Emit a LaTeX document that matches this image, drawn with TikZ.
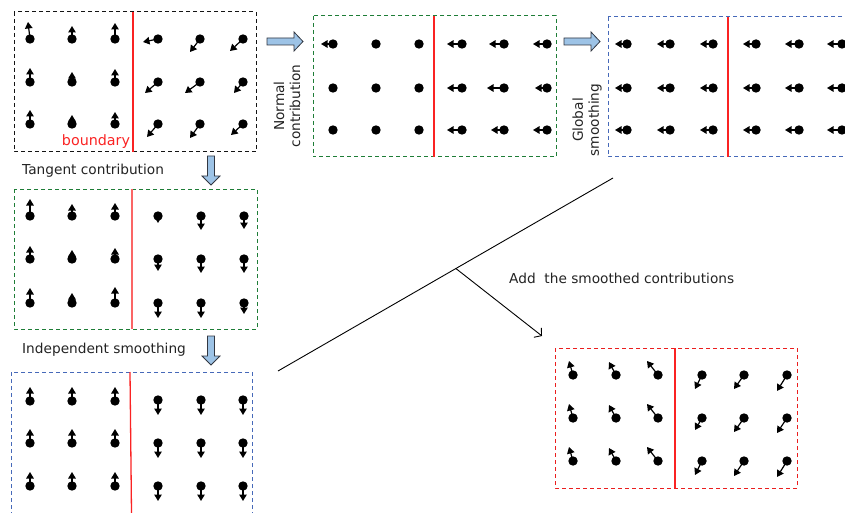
\documentclass[tikz,border=0pt]{standalone}
\usepackage{fontspec}
\setmainfont{DejaVu Sans}
\usetikzlibrary{arrows.meta,calc}

\definecolor{frameblack}{RGB}{20,20,20}
\definecolor{framegreen}{RGB}{30,125,55}
\definecolor{frameblue}{RGB}{70,105,185}
\definecolor{framered}{RGB}{235,30,30}
\definecolor{bndred}{RGB}{250,35,35}
\definecolor{arrfill}{RGB}{157,195,230}
\definecolor{arredge}{RGB}{50,55,65}
\definecolor{labelgray}{RGB}{35,35,35}

% a field vector: dot at (x,y) with an arrow of offset (dx,dy)
\newcommand\fieldvecs[1]{%
  \foreach \px/\py/\vx/\vy in {#1}{%
    \fill (\px,\py) circle[radius=4.7pt];
    \draw[vecarrow] (\px,\py) -- ++(\vx,\vy);
  }}
\newcommand\fielddots[1]{%
  \foreach \px/\py in {#1}{\fill (\px,\py) circle[radius=4.7pt];}}

\begin{document}
\begin{tikzpicture}[x=1pt,y=-1pt,
  vecarrow/.style={line width=1.2pt,-{Triangle[length=6.5pt,width=7.5pt]}},
  framebox/.style={line width=1pt,dash pattern=on 4pt off 3pt},
  bline/.style={bndred,line width=1.3pt},
  tlabel/.style={font=\fontsize{13.7}{16}\selectfont,text=labelgray,inner sep=0pt},
  blockarrow/.style={fill=arrfill,draw=arredge,line width=0.8pt},
  rblock/.pic={\path[blockarrow] (-18,-3.5) -- (9,-3.5) -- (9,-9.5) -- (18,0) -- (9,9.5) -- (9,3.5) -- (-18,3.5) -- cycle;},
  dblock/.pic={\path[blockarrow] (-3.5,-14.5) -- (-3.5,5.5) -- (-9,5.5) -- (0,14.5) -- (9,5.5) -- (3.5,5.5) -- (3.5,-14.5) -- cycle;},
]
\useasboundingbox (0,0) rectangle (845,513);
\clip (0,0) rectangle (845,513);

% ---- frames and boundaries ----
\draw[framebox,frameblack] (14,12) rectangle (256,152);
\draw[bline] (133,12) -- (133,152);
\node[tlabel,text=bndred,font=\fontsize{14.3}{17}\selectfont] (bnd) at (96,142) {boundary};

\draw[framebox,framegreen] (313,16) rectangle (556,157);
\draw[bline] (434,16) -- (434,157);

\draw[framebox,frameblue] (608,17) rectangle (851,157);
\draw[bline] (728,17) -- (728,157);

\draw[framebox,framegreen] (14,189) rectangle (257,329);
\draw[bline,bndred!70] (132,189) -- (132,329);

\draw[framebox,frameblue] (11,372) rectangle (252,516);
\draw[bline] (130,372) -- (131.5,513);

\draw[framebox,framered] (555,348) rectangle (797,488);
\draw[bline] (675,348) -- (675,488);

% ---- initial field ----
\fieldvecs{30/39/-2/-17, 72/39/0/-13, 115/39/0/-16,
           30/82/0/-14, 72/82/0/-10, 115/82/0/-13,
           30/124/0/-14, 72/124/0/-9, 115/124/0/-12,
           158/39/-15/3, 200/39/-10/13, 243/39/-13/12,
           158/82/-13/11, 200/82/-15/11, 243/82/-9/11,
           158/124/-11/13, 200/124/-10/14, 243/124/-12/11}

% ---- normal contribution ----
\fieldvecs{333/44/-12/0,
           462/44/-15/0, 504/44/-15/0, 547/44/-14/0,
           462/88/-15/0, 504/88/-17/0, 547/88/-12/0,
           462/130/-15/0, 504/130/-13/0, 547/130/-14/0}
\fielddots{376/44, 419/44, 333/88, 376/88, 419/88, 333/130, 376/130, 419/130}

% ---- global smoothing ----
\fieldvecs{627/44/-12/0, 670/44/-13/0, 713/44/-13/0,
           756/44/-13/0, 799/44/-14/0, 842/44/-15/0,
           627/88/-12/0, 670/88/-13/0, 713/88/-13/0,
           756/88/-13/0, 799/88/-14/0, 842/88/-15/0,
           627/130/-12/0, 670/130/-13/0, 713/130/-13/0,
           756/130/-13/0, 799/130/-14/0, 842/130/-15/0}

% ---- tangent contribution ----
\fieldvecs{30/216/0/-17, 72/216/0/-12, 115/216/0/-13,
           30/259/0/-13, 72/259/0/-9, 115/259/0/-11,
           30/303/0/-15, 72/303/0/-10, 115/303/0/-16,
           158/216/0/7, 201/216/0/14, 244/216/0/13,
           158/259/0/12, 201/259/0/14, 244/259/0/14,
           158/303/0/15, 201/303/0/15, 244/303/0/11}

% ---- independent smoothing ----
\fieldvecs{30/401/0/-14, 72/401/0/-14, 115/401/0/-14,
           30/443/0/-14, 72/443/0/-14, 115/443/0/-14,
           30/486/0/-14, 72/486/0/-14, 115/486/0/-14,
           158/400/0/15, 201/400/0/15, 243/400/0/15,
           158/443/0/15, 201/443/0/15, 243/443/0/15,
           158/486/0/15, 201/486/0/15, 243/486/0/15}

% ---- sum of smoothed contributions ----
\fieldvecs{573/375/-4/-14, 616/375/-7/-13, 658/375/-11/-14,
           573/418/-4/-14, 616/418/-7/-13, 658/418/-11/-14,
           573/461/-4/-14, 616/461/-7/-13, 658/461/-11/-14,
           702/375/-7/14, 744/375/-10/14, 787/375/-10/16,
           702/418/-7/12, 744/418/-10/14, 787/418/-10/15,
           702/461/-7/14, 744/461/-10/15, 787/461/-10/16}

% ---- block arrows between stages ----
\pic at (285,41.5) {rblock};
\pic at (582,41.5) {rblock};
\pic at (211,170.5) {dblock};
\pic at (211,350.5) {dblock};

% ---- stage labels ----
\node[tlabel,rotate=90,align=center] (normal) at (287,106) {Normal\\contribution};
\node[tlabel,rotate=90,align=center] (global) at (587,120) {Global\\smoothing};
\node[tlabel,anchor=west] (tangent) at (22,171) {Tangent contribution};
\node[tlabel,anchor=west] (indep) at (22,350) {Independent smoothing};
\node[tlabel,anchor=west] (addlbl) at (509,278) {Add\ \ the smoothed contributions};

% ---- joining line and result arrow ----
\coordinate (joinA) at (278,371);
\coordinate (joinB) at (613,178);
\coordinate (joinM) at ($(joinA)!0.531!(joinB)$);
\coordinate (result) at (542,336);
\draw[line width=0.9pt] (joinA) -- (joinB);
\draw[line width=0.9pt,-{Straight Barb[length=5pt,width=12pt]}] (joinM) -- (result);
\end{tikzpicture}
\end{document}
